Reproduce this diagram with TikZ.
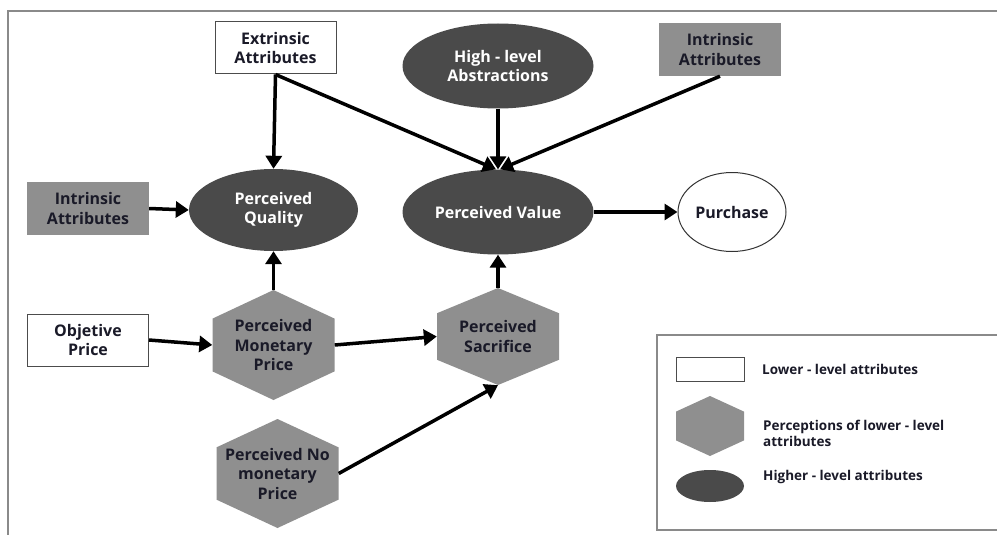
\documentclass[tikz,border=0pt]{standalone}
\usepackage{fontspec}
\setmainfont{Open Sans}
\usetikzlibrary{arrows.meta}
\definecolor{darkfill}{HTML}{4A4A4A}
\definecolor{midgray}{HTML}{8F8F8F}
\definecolor{framegray}{HTML}{8A8A8A}
\definecolor{txt}{HTML}{1A1A28}
\tikzset{
  base/.style={font=\bfseries\fontsize{16}{19.5}\selectfont, align=center, inner sep=0pt, text=txt},
  lowbox/.style={base, draw=black!70, line width=1pt, fill=white, minimum width=121pt, minimum height=52pt},
  graybox/.style={base, fill=midgray, minimum width=122pt, minimum height=53pt},
  highell/.style={base, ellipse, fill=darkfill, text=white},
  hexnode/.style={base, minimum width=122pt, minimum height=#1,
    path picture={\fill[midgray] (path picture bounding box.north)
      -- ([yshift=-0.26*#1]path picture bounding box.north east)
      -- ([yshift=0.26*#1]path picture bounding box.south east)
      -- (path picture bounding box.south)
      -- ([yshift=0.26*#1]path picture bounding box.south west)
      -- ([yshift=-0.26*#1]path picture bounding box.north west) -- cycle;}},
  conn/.style={line width=3.5pt, -{Triangle[length=13pt,width=16pt]}},
  legtxt/.style={font=\bfseries\fontsize{13.5}{16}\selectfont, text=txt, align=left, anchor=west, inner sep=0pt},
  frame/.style={draw=framegray, line width=2pt}
}
\usetikzlibrary{shapes.geometric}
\begin{document}
\begin{tikzpicture}[x=1pt,y=-1pt]
\useasboundingbox (0,0) rectangle (997,535);
% outer frame
\draw[frame] (8,535) -- (8,11) -- (997,11);
% legend frame
\draw[frame] (997,335) -- (657,335) -- (657,530) -- (997,530);

% nodes
\node[lowbox] (ext) at (275.5,48) {Extrinsic\\Attributes};
\node[highell, minimum width=191pt, minimum height=85pt] (hla) at (498,66) {High - level\\Abstractions};
\node[graybox] (intr) at (720,49.5) {Intrinsic\\Attributes};
\node[graybox] (intl) at (88,208.5) {Intrinsic\\Attributes};
\node[highell, minimum width=169pt, minimum height=82pt] (pq) at (273.5,210) {Perceived\\Quality};
\node[highell, minimum width=191pt, minimum height=85pt] (pv) at (498,212) {Perceived Value};
\node[base, ellipse, draw=black!80, line width=1pt, fill=white, minimum width=108pt, minimum height=79pt] (pur) at (732,212) {Purchase};
\node[lowbox] (obj) at (88,340) {Objetive\\Price};
\node[hexnode=110pt] (pmp) at (273.5,345) {Perceived\\Monetary\\Price};
\node[hexnode=97pt] (ps) at (498,336.5) {Perceived\\Sacrifice};
\node[hexnode=109pt] (pnm) at (277.5,473.5) {Perceived No\\monetary\\Price};

% connectors
\draw[conn] (ext.south) -- (pq.north);
\draw[conn] (ext.south) -- ([xshift=-2pt]pv.north);
\draw[conn] (hla.south) -- (pv.north);
\draw[conn] (intr.south) -- ([xshift=2pt]pv.north);
\draw[conn] (intl.east) -- (pq.west);
\draw[conn] (pmp.north) -- (pq.south);
\draw[conn] (obj.east) -- (pmp.west);
\draw[conn] (pmp.east) -- (ps.west);
\draw[conn] (ps.north) -- (pv.south);
\draw[conn] (pnm.east) -- (ps.south);
\draw[conn] (pv.east) -- (pur.west);

% legend
\node[draw=black!70, line width=1pt, fill=white, minimum width=68pt, minimum height=24pt, inner sep=0pt] (lg1) at (710,369) {};
\node[legtxt] (lt1) at (762,369) {Lower - level attributes};
\node[hexnode=60pt, minimum width=68pt] (lg2) at (710,426) {};
\node[legtxt] (lt2) at (763,433) {Perceptions of lower - level\\attributes};
\node[ellipse, fill=darkfill, minimum width=68pt, minimum height=32pt, inner sep=0pt] (lg3) at (710,486) {};
\node[legtxt] (lt3) at (763,477) {Higher - level attributes};
\end{tikzpicture}
\end{document}
